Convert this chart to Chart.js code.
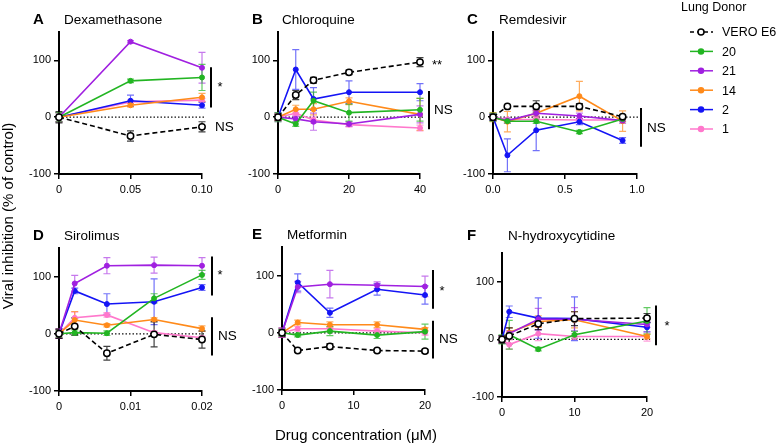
<!DOCTYPE html>
<html>
<head>
<meta charset="utf-8">
<script src="https://cdn.jsdelivr.net/npm/chart.js@4/dist/chart.umd.min.js"></script>
<style>
  body { margin: 0; background: #fff; }
  #wrap { position: relative; width: 778px; height: 446px; }
  #wrap canvas { position: absolute; left: 0; top: 0; }
</style>
</head>
<body>
<div id="wrap"></div>
<script>
const donors = ["VERO E6", "20", "21", "14", "2", "1"];
const yTicks = [-100, 0, 100];

// A - Dexamethasone (rows follow donors)
const dexConc = [0, 0.05, 0.1];
const dexTicks = [0, 0.05, 0.1];
const dexTickLabels = ["0", "0.05", "0.10"];
const dexMean = [
  [0, -33, -17],
  [0, 64, 70],
  [0, 133, 87],
  [0, 21, 35],
  [0, 29, 21],
  [0, 27, 30],
];
const dexErr = [
  [10, 9, 9],
  [8, 3, 23],
  [8, 2, 27],
  [8, 3, 7],
  [8, 10, 5],
  [8, 3, 3],
];

// B - Chloroquine
const chqConc = [0, 5, 10, 20, 40];
const chqTicks = [0, 20, 40];
const chqTickLabels = ["0", "20", "40"];
const chqMean = [
  [0, 39, 65, 79, 97],
  [0, -12, 29, 8, 13],
  [0, -3, -8, -12, 5],
  [0, 14, 14, 28, 5],
  [0, 84, 32, 44, 44],
  [0, 7, -5, -13, -19],
];
const chqErr = [
  [5, 8, 5, 4, 8],
  [8, 4, 15, 15, 20],
  [8, 5, 15, 4, 15],
  [6, 7, 10, 6, 28],
  [6, 35, 20, 20, 15],
  [5, 5, 5, 4, 5],
];

// C - Remdesivir
const remConc = [0, 0.1, 0.3, 0.6, 0.9];
const remTicks = [0, 0.5, 1];
const remTickLabels = ["0.0", "0.5", "1.0"];
const remMean = [
  [0, 19, 19, 19, 1],
  [0, -7, -7, -26, -3],
  [0, -6, 7, 2, -6],
  [0, -8, 7, 37, -7],
  [0, -67, -23, -8, -41],
  [0, -4, -4, -5, -5],
];
const remErr = [
  [5, 2, 10, 5, 3],
  [7, 3, 4, 3, 5],
  [5, 5, 5, 5, 5],
  [8, 18, 5, 26, 18],
  [6, 29, 36, 5, 5],
  [3, 3, 3, 3, 3],
];

// D - Sirolimus
const sirConc = [0, 0.0022, 0.0067, 0.0133, 0.02];
const sirTicks = [0, 0.01, 0.02];
const sirTickLabels = ["0", "0.01", "0.02"];
const sirMean = [
  [0, 13, -34, -1, -10],
  [0, 2, 1, 62, 103],
  [0, 88, 119, 120, 119],
  [0, 24, 15, 25, 9],
  [0, 75, 52, 56, 81],
  [0, 28, 33, 2, -7],
];
const sirErr = [
  [8, 15, 12, 22, 15],
  [6, 5, 4, 8, 8],
  [8, 14, 14, 14, 14],
  [8, 15, 3, 3, 5],
  [8, 5, 18, 40, 5],
  [6, 10, 4, 3, 3],
];

// E - Metformin
const metConc = [0, 2.2, 6.7, 13.3, 20];
const metTicks = [0, 10, 20];
const metTickLabels = ["0", "10", "20"];
const metMean = [
  [0, -31, -24, -31, -32],
  [0, -4, 3, -4, 2],
  [0, 80, 85, 83, 81],
  [0, 18, 14, 14, 6],
  [0, 88, 35, 76, 66],
  [0, 7, 7, 3, 0],
];
const metErr = [
  [5, 3, 5, 3, 3],
  [6, 3, 8, 6, 13],
  [8, 10, 24, 6, 18],
  [8, 4, 5, 5, 3],
  [8, 15, 8, 10, 16],
  [4, 4, 4, 4, 4],
];

// F - N-hydroxycytidine
const nhcConc = [0, 1, 5, 10, 20];
const nhcTicks = [0, 10, 20];
const nhcTickLabels = ["0", "10", "20"];
const nhcMean = [
  [0, 6, 27, 36, 37],
  [0, 8, -17, 8, 32],
  [0, 10, 35, 35, 26],
  [0, 12, 31, 34, 5],
  [0, 48, 37, 36, 21],
  [0, -9, 10, 5, 5],
];
const nhcErr = [
  [6, 14, 10, 12, 8],
  [8, 25, 3, 6, 23],
  [6, 5, 19, 20, 5],
  [6, 8, 10, 14, 4],
  [6, 10, 35, 38, 8],
  [4, 8, 12, 5, 8],
];

const colors = ["#000000", "#22b522", "#a020e0", "#ff8a1a", "#1414f5", "#ff78cc"];
const errColors = ["rgba(0,0,0,0.75)", "rgba(34,181,34,0.7)", "rgba(160,32,224,0.6)",
  "rgba(255,138,26,0.7)", "rgba(20,20,245,0.6)", "rgba(255,120,204,0.7)"];
const FONT = "'Liberation Sans', Arial, sans-serif";

// layout: box = [left, right, top, bottom] of each plot area
const panels = [
  { letter: "A", title: "Dexamethasone", conc: dexConc, mean: dexMean, err: dexErr,
    xTicks: dexTicks, xLabels: dexTickLabels, xMax: 0.1, box: [59, 202, 32, 174],
    letterX: 33, titleX: 64, titleY: 20,
    sig: [{ bar: [88, 17], dx: 9 }, { label: "*", dx: 18, y: 58 }, { label: "NS", dx: 13, y: -18 }] },
  { letter: "B", title: "Chloroquine", conc: chqConc, mean: chqMean, err: chqErr,
    xTicks: chqTicks, xLabels: chqTickLabels, xMax: 40, box: [278, 420, 32, 174],
    letterX: 252, titleX: 282, titleY: 20,
    sig: [{ label: "**", dx: 17, y: 97 }, { bar: [46, -21], dx: 9 }, { label: "NS", dx: 14, y: 13 }] },
  { letter: "C", title: "Remdesivir", conc: remConc, mean: remMean, err: remErr,
    xTicks: remTicks, xLabels: remTickLabels, xMax: 1, box: [493, 637, 32, 174],
    letterX: 467, titleX: 499, titleY: 20,
    sig: [{ bar: [16, -52], dx: 4 }, { label: "NS", dx: 10, y: -19 }] },
  { letter: "D", title: "Sirolimus", conc: sirConc, mean: sirMean, err: sirErr,
    xTicks: sirTicks, xLabels: sirTickLabels, xMax: 0.02, box: [59, 202, 248, 391],
    letterX: 33, titleX: 64, titleY: 236,
    sig: [{ bar: [135, 67], dx: 10 }, { label: "*", dx: 18, y: 107 },
          { bar: [29, -38], dx: 10 }, { label: "NS", dx: 16, y: -4 }] },
  { letter: "E", title: "Metformin", conc: metConc, mean: metMean, err: metErr,
    xTicks: metTicks, xLabels: metTickLabels, xMax: 20, box: [282, 425, 247, 390],
    letterX: 252, titleX: 287, titleY: 235,
    sig: [{ bar: [110, 42], dx: 8 }, { label: "*", dx: 17, y: 77 },
          { bar: [21, -45], dx: 8 }, { label: "NS", dx: 14, y: -12 }] },
  { letter: "F", title: "N-hydroxycytidine", conc: nhcConc, mean: nhcMean, err: nhcErr,
    xTicks: nhcTicks, xLabels: nhcTickLabels, xMax: 20, box: [502, 647, 253, 397],
    letterX: 467, titleX: 508, titleY: 236,
    sig: [{ bar: [59, -10], dx: 9 }, { label: "*", dx: 20, y: 28 }] },
];

const W = 778, H = 446, Y_AXIS_W = 40, X_AXIS_H = 22;

const panelPlugin = {
  id: "panelDecor",
  beforeDatasetsDraw(chart) {
    const p = chart.options.plugins.panelDecor.panel;
    const { ctx, chartArea } = chart;
    const xs = chart.scales.x, ys = chart.scales.y;
    ctx.save();
    // dotted zero line
    ctx.strokeStyle = "#111";
    ctx.lineWidth = 1.3;
    ctx.setLineDash([1.5, 2]);
    ctx.beginPath();
    ctx.moveTo(chartArea.left, ys.getPixelForValue(0));
    ctx.lineTo(chartArea.right + 3, ys.getPixelForValue(0));
    ctx.stroke();
    ctx.setLineDash([]);
    // error bars
    ctx.lineWidth = 1.2;
    for (let i = p.mean.length - 1; i >= 0; i--) {
      ctx.strokeStyle = errColors[i];
      p.conc.forEach((c, j) => {
        const e = p.err[i][j];
        const px = xs.getPixelForValue(c);
        const y1 = ys.getPixelForValue(p.mean[i][j] + e);
        const y2 = ys.getPixelForValue(p.mean[i][j] - e);
        ctx.beginPath();
        ctx.moveTo(px, y1); ctx.lineTo(px, y2);
        ctx.moveTo(px - 3.5, y1); ctx.lineTo(px + 3.5, y1);
        ctx.moveTo(px - 3.5, y2); ctx.lineTo(px + 3.5, y2);
        ctx.stroke();
      });
    }
    ctx.restore();
  },
  afterDraw(chart) {
    const p = chart.options.plugins.panelDecor.panel;
    const { ctx, chartArea } = chart;
    const ys = chart.scales.y;
    ctx.save();
    ctx.fillStyle = "#000";
    ctx.textBaseline = "middle";
    ctx.textAlign = "left";
    ctx.font = "bold 15px " + FONT;
    ctx.fillText(p.letter, p.letterX, p.titleY);
    ctx.font = "13.5px " + FONT;
    ctx.fillText(p.title, p.titleX, p.titleY);

    // significance marks
    p.sig.forEach((s) => {
      if (s.bar) {
        ctx.strokeStyle = "#000";
        ctx.lineWidth = 2;
        ctx.beginPath();
        ctx.moveTo(chartArea.right + s.dx, ys.getPixelForValue(s.bar[0]));
        ctx.lineTo(chartArea.right + s.dx, ys.getPixelForValue(s.bar[1]));
        ctx.stroke();
      } else if (s.label === "NS") {
        ctx.font = "13.5px " + FONT;
        ctx.textAlign = "left";
        ctx.fillText("NS", chartArea.right + s.dx, ys.getPixelForValue(s.y));
      } else {
        ctx.font = "13px " + FONT;
        ctx.textAlign = "center";
        ctx.fillText(s.label, chartArea.right + s.dx, ys.getPixelForValue(s.y) + 3);
      }
    });

    if (p.letter === "A") {
      // shared axis titles
      ctx.font = "15px " + FONT;
      ctx.textAlign = "center";
      ctx.fillText("Drug concentration (\u03bcM)", 356, 436);
      ctx.save();
      ctx.translate(9, 216);
      ctx.rotate(-Math.PI / 2);
      ctx.fillText("Viral inhibition (% of control)", 0, 0);
      ctx.restore();

      // legend
      ctx.textAlign = "left";
      ctx.font = "12.5px " + FONT;
      ctx.fillText("Lung Donor", 681, 8);
      ctx.font = "12.5px " + FONT;
      donors.forEach((name, i) => {
        const y = 32 + i * 19.4;
        ctx.strokeStyle = colors[i];
        ctx.lineWidth = 1.5;
        ctx.setLineDash(i === 0 ? [4, 3] : []);
        ctx.beginPath();
        ctx.moveTo(690, y); ctx.lineTo(713, y);
        ctx.stroke();
        ctx.setLineDash([]);
        ctx.beginPath();
        ctx.arc(701, y, i === 0 ? 3 : 2.5, 0, Math.PI * 2);
        ctx.fillStyle = i === 0 ? "#fff" : colors[i];
        ctx.fill();
        ctx.stroke();
        ctx.fillStyle = "#000";
        ctx.fillText(name, 722, y + 1);
      });
    }
    ctx.restore();
  },
};

const wrap = document.getElementById("wrap");

panels.forEach((p) => {
  const canvas = document.createElement("canvas");
  canvas.width = W;
  canvas.height = H;
  wrap.appendChild(canvas);

  const [left, right, top, bottom] = p.box;
  const axisCommon = {
    grid: { display: true, drawOnChartArea: false, drawTicks: true, tickLength: 5, color: "#000", lineWidth: 1.5 },
    border: { display: true, color: "#000", width: 2 },
  };

  new Chart(canvas, {
    type: "line",
    data: {
      datasets: donors.map((name, i) => ({
        label: name,
        data: p.conc.map((c, j) => ({ x: c, y: p.mean[i][j] })),
        borderColor: colors[i],
        backgroundColor: i === 0 ? "#fff" : colors[i],
        pointBackgroundColor: i === 0 ? "#fff" : colors[i],
        pointBorderColor: colors[i],
        borderWidth: 1.6,
        borderDash: i === 0 ? [5, 3] : [],
        pointRadius: i === 0 ? 3.2 : 2.5,
        pointBorderWidth: i === 0 ? 1.5 : 1,
        tension: 0,
        clip: false,
      })),
    },
    options: {
      responsive: false,
      animation: false,
      events: [],
      layout: {
        autoPadding: false,
        padding: { left: left - Y_AXIS_W, right: W - right, top: top, bottom: H - X_AXIS_H - bottom },
      },
      plugins: {
        legend: { display: false },
        tooltip: { enabled: false },
        panelDecor: { panel: p },
      },
      scales: {
        x: {
          type: "linear",
          min: 0,
          max: p.xMax,
          ...axisCommon,
          afterBuildTicks: (s) => { s.ticks = p.xTicks.map((v) => ({ value: v })); },
          afterFit: (s) => { s.height = X_AXIS_H; },
          ticks: {
            color: "#000", font: { family: FONT, size: 11 }, padding: 4,
            maxRotation: 0, autoSkip: false,
            callback: (v, i) => p.xLabels[i],
          },
        },
        y: {
          type: "linear",
          min: -100,
          max: 150,
          ...axisCommon,
          afterBuildTicks: (s) => { s.ticks = yTicks.map((v) => ({ value: v })); },
          afterFit: (s) => { s.width = Y_AXIS_W; },
          ticks: {
            color: "#000", font: { family: FONT, size: 11 }, padding: 3,
            callback: (v) => String(v),
          },
        },
      },
    },
    plugins: [panelPlugin],
  });
});
</script>
</body>
</html>
